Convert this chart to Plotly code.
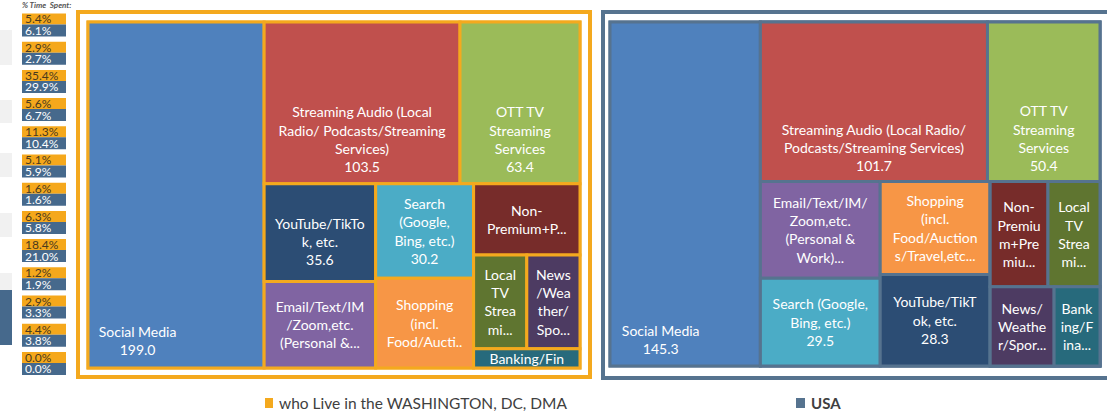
import plotly.graph_objects as go

W, H = 1107, 414

# minutes per week spent on each online activity
categories = ["Social Media", "Streaming Audio", "OTT TV Streaming Services", "YouTube/TikTok",
              "Email/Text/IM/Zoom", "Search", "Shopping", "Non-Premium+Premium",
              "Local TV Streaming", "News/Weather/Sports", "Banking/Finance"]
dc_minutes = [199.0, 103.5, 63.4, 35.6, 31.5, 30.2, 28.7, 24.7, 16.3, 16.3, 6.7]
usa_minutes = [145.3, 101.7, 50.4, 28.3, 32.6, 29.5, 28.7, 17.1, 15.4, 14.2, 10.2]

# labels as they appear (wrapped / truncated) inside the tiles
dc_text = ["Social Media<br>199.0",
           "Streaming Audio (Local<br>Radio/ Podcasts/Streaming<br>Services)<br>103.5",
           "OTT TV<br>Streaming<br>Services<br>63.4",
           "YouTube/TikTo<br>k, etc.<br>35.6",
           "Email/Text/IM<br>/Zoom,etc.<br>(Personal &...",
           "Search<br>(Google,<br>Bing, etc.)<br>30.2",
           "Shopping<br>(incl.<br>Food/Aucti..",
           "Non-<br>Premium+P...",
           "Local<br>TV<br>Strea<br>mi...",
           "News<br>/Wea<br>ther/<br>Spo...",
           "Banking/Fin"]
usa_text = ["Social Media<br>145.3",
            "Streaming Audio (Local Radio/<br>Podcasts/Streaming Services)<br>101.7",
            "OTT TV<br>Streaming<br>Services<br>50.4",
            "YouTube/TikT<br>ok, etc.<br>28.3",
            "Email/Text/IM/<br>Zoom,etc.<br>(Personal &<br>Work)...",
            "Search (Google,<br>Bing, etc.)<br>29.5",
            "Shopping<br>(incl.<br>Food/Auction<br>s/Travel,etc...",
            "Non-<br>Premiu<br>m+Pre<br>miu...",
            "Local<br>TV<br>Strea<br>mi...",
            "News/<br>Weathe<br>r/Spor...",
            "Bank<br>ing/F<br>ina..."]

# % time spent table (orange = DC, blue = USA)
dc_share = ["5.4%", "2.9%", "35.4%", "5.6%", "11.3%", "5.1%", "1.6%",
            "6.3%", "18.4%", "1.2%", "2.9%", "4.4%", "0.0%"]
usa_share = ["6.1%", "2.7%", "29.9%", "6.7%", "10.4%", "5.9%", "1.6%",
             "5.8%", "21.0%", "1.9%", "3.3%", "3.8%", "0.0%"]

colors = ["#4F81BD", "#C0504D", "#9BBB59", "#2C4D74", "#8064A2", "#4BACC6",
          "#F79646", "#772C2A", "#5F7530", "#4D3B62", "#276A7C"]

ORANGE = "#F4A91E"
SLATE = "#56738F"

# tile grouping, only used to steer the squarify layout like Excel's
dc_layout = ("all", list(range(11)))
usa_layout = ("all", [0, ("rest", [1, 2, 4, 5, 6, 3,
                                   ("small", [("top", [7, 8]), ("bottom", [9, 10])])])])

BLANK = "\u00a0<br>"
EN = "\u2002"


def shift(texts, down, left):
    # push label blocks down / to the left like Excel does
    out = []
    for i, t in enumerate(texts):
        lines = t.split("<br>")
        if i in left:
            lines = [ln + EN * left[i] for ln in lines]
        out.append(BLANK * down.get(i, 0) + "<br>".join(lines))
    return out


dc_labels = shift(dc_text, {0: 16, 1: 4, 2: 4, 3: 1}, {0: 11})
usa_labels = shift(usa_text, {0: 16, 1: 5, 2: 4}, {0: 7})


def build(spec, values, texts, prefix, group_col):
    ids, parents, vals, txt, cols = [], [], [], [], []

    def walk(node, parent):
        if isinstance(node, int):
            ids.append(prefix + categories[node])
            vals.append(values[node])
            txt.append(texts[node])
            cols.append(colors[node])
            parents.append(parent)
            return
        name, kids = node
        ids.append(prefix + name)
        vals.append(0)
        txt.append("")
        cols.append(group_col)
        parents.append(parent)
        for k in kids:
            walk(k, prefix + name)

    walk(spec, "")
    return ids, parents, vals, txt, cols


def px(x):
    return x / W


def py(y):
    return 1 - y / H


fig = go.Figure()

for spec, vals, labels, prefix, line_col, x0, x1, y1 in [
    (dc_layout, dc_minutes, dc_labels, "dc/", ORANGE, 88, 580, 368),
    (usa_layout, usa_minutes, usa_labels, "us/", SLATE, 610, 1100, 366),
]:
    ids, parents, v, txt, cols = build(spec, vals, labels, prefix, line_col)
    fig.add_trace(go.Treemap(
        ids=ids,
        labels=ids,
        parents=parents,
        values=v,
        branchvalues="remainder",
        text=txt,
        textinfo="text",
        textposition="middle center",
        sort=False,
        marker=dict(colors=cols, line=dict(color=line_col, width=3),
                    pad=dict(t=0, l=0, r=0, b=0)),
        textfont=dict(family="Lato, sans-serif", size=14, color="white"),
        tiling=dict(packing="squarify", pad=0),
        pathbar=dict(visible=False),
        domain=dict(x=[px(x0), px(x1)], y=[py(y1), py(22)]),
        hoverinfo="label+value",
    ))

shapes = []
annotations = []

# frames around the two treemaps
shapes.append(dict(type="rect", xref="paper", yref="paper",
                   x0=px(78), x1=px(590), y0=py(377), y1=py(12),
                   line=dict(color=ORANGE, width=4)))
shapes.append(dict(type="rect", xref="paper", yref="paper",
                   x0=px(603), x1=px(1115), y0=py(378), y1=py(12),
                   line=dict(color=SLATE, width=4)))

# slide fragments on the left edge
for a, b in [(30, 65), (100, 123), (153, 177), (213, 237), (273, 290)]:
    shapes.append(dict(type="rect", xref="paper", yref="paper", layer="below",
                       x0=px(0), x1=px(12), y0=py(b), y1=py(a),
                       fillcolor="#F1F1F1", line=dict(width=0)))
shapes.append(dict(type="rect", xref="paper", yref="paper",
                   x0=px(0), x1=px(12), y0=py(345), y1=py(290),
                   fillcolor="#46698C", line=dict(width=0)))

# % time spent column
annotations.append(dict(text="<i><b>% Time  Spent:</b></i>", x=px(46), y=py(5.5),
                        xref="paper", yref="paper", xanchor="center", yanchor="middle",
                        showarrow=False, font=dict(family="Lato", size=8, color="#555555")))
for i, (a, b) in enumerate(zip(dc_share, usa_share)):
    top = 13.5 + i * 28.2
    shapes.append(dict(type="rect", xref="paper", yref="paper",
                       x0=px(22), x1=px(66), y0=py(top + 11), y1=py(top),
                       fillcolor="#F5A81C", line=dict(width=0)))
    shapes.append(dict(type="rect", xref="paper", yref="paper",
                       x0=px(22), x1=px(66), y0=py(top + 23), y1=py(top + 11),
                       fillcolor="#46698C", line=dict(width=0)))
    annotations.append(dict(text=a, x=px(23), y=py(top + 5.5), xref="paper", yref="paper",
                            xanchor="left", yanchor="middle", showarrow=False, height=11,
                            font=dict(family="Lato", size=12, color="#4A3A1E")))
    annotations.append(dict(text=b, x=px(23), y=py(top + 17), xref="paper", yref="paper",
                            xanchor="left", yanchor="middle", showarrow=False, height=11,
                            font=dict(family="Lato", size=12, color="white")))

# legend
shapes.append(dict(type="rect", xref="paper", yref="paper",
                   x0=px(265), x1=px(273), y0=py(408), y1=py(398),
                   fillcolor=ORANGE, line=dict(width=0)))
shapes.append(dict(type="rect", xref="paper", yref="paper",
                   x0=px(796), x1=px(805), y0=py(408), y1=py(398),
                   fillcolor=SLATE, line=dict(width=0)))
annotations.append(dict(text="who Live in the WASHINGTON, DC, DMA", x=px(277), y=py(403),
                        xref="paper", yref="paper", xanchor="left", yanchor="middle",
                        showarrow=False, font=dict(family="Lato", size=15.5, color="#404040")))
annotations.append(dict(text="<b>USA</b>", x=px(809), y=py(403),
                        xref="paper", yref="paper", xanchor="left", yanchor="middle",
                        showarrow=False, font=dict(family="Lato", size=15, color="#404040")))

fig.update_layout(
    width=W, height=H,
    margin=dict(l=0, r=0, t=0, b=0),
    paper_bgcolor="white",
    showlegend=False,
    uniformtext=dict(minsize=14, mode="show"),
    shapes=shapes,
    annotations=annotations,
)

# drop the page's default body margin so the figure sits at the window corner
fig.write_html("out.html", config={"displayModeBar": False},
               post_script="document.body.style.margin = '0';")
